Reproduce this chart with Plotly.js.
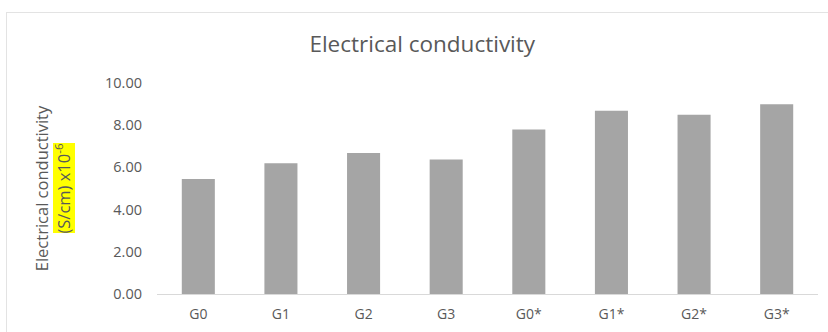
<!DOCTYPE html>
<html>
<head>
<meta charset="utf-8">
<script src="https://cdn.plot.ly/plotly-3.0.1.min.js"></script>
<style>
  html, body { margin: 0; padding: 0; background: #ffffff; }
  #wrap { position: relative; width: 828px; height: 332px; overflow: hidden; }
  #chart { width: 828px; height: 332px; }
  #frame {
    position: absolute; left: 6px; top: 12px; width: 900px; height: 400px;
    border-left: 1.5px solid #e3e3e3; border-top: 1.5px solid #e3e3e3;
    pointer-events: none;
  }
</style>
</head>
<body>
<div id="wrap">
  <div id="chart"></div>
  <div id="frame"></div>
</div>
<script>
// Sample groups and their measured conductivity (S/cm, x10^-6)
const groups = ['G0', 'G1', 'G2', 'G3', 'G0*', 'G1*', 'G2*', 'G3*'];
const conductivity = [5.45, 6.20, 6.68, 6.38, 7.80, 8.68, 8.50, 8.99];
const yTickValues = [0, 2, 4, 6, 8, 10];
const yTickLabels = ['0.00', '2.00', '4.00', '6.00', '8.00', '10.00'];

const textColor = '#595959';
const font = 'Open Sans, Noto Sans, sans-serif';

const trace = {
  type: 'bar',
  x: groups,
  y: conductivity,
  marker: { color: '#a5a5a5', line: { width: 0 } },
  hoverinfo: 'x+y'
};

const layout = {
  width: 828,
  height: 332,
  margin: { l: 157, r: 10, t: 83, b: 38 },
  paper_bgcolor: '#ffffff',
  plot_bgcolor: '#ffffff',
  bargap: 0.6,
  showlegend: false,
  font: { family: font, color: textColor },
  title: {
    text: 'Electrical conductivity',
    font: { family: font, size: 22.5, color: textColor },
    xref: 'container', yref: 'container',
    x: 0.51, xanchor: 'center',
    y: 0.867, yanchor: 'middle'
  },
  xaxis: {
    type: 'category',
    range: [-0.5, 7.5],
    showgrid: false,
    zeroline: false,
    showline: true,
    linecolor: '#d9d9d9',
    linewidth: 1.3,
    ticks: '',
    ticklabelstandoff: 7,
    tickfont: { family: font, size: 14, color: textColor },
    fixedrange: true
  },
  yaxis: {
    range: [0, 10],
    tickvals: yTickValues,
    ticktext: yTickLabels,
    showgrid: false,
    zeroline: false,
    showline: false,
    ticks: '',
    ticklabelstandoff: 14,
    tickfont: { family: font, size: 14.5, color: textColor },
    fixedrange: true,
    title: {
      text: 'Electrical conductivity<br>(S/cm) x10<sup>-6</sup>',
      font: { family: font, size: 16.5, color: textColor },
      standoff: 30
    }
  },
  // yellow highlight behind the unit line of the axis title
  shapes: [
    {
      type: 'rect', layer: 'above',
      xref: 'paper', yref: 'paper',
      x0: (53 - 157) / 661, x1: (75 - 157) / 661,
      y0: (294 - 233) / 211, y1: (294 - 143) / 211,
      fillcolor: '#ffff00', line: { width: 0 }
    }
  ]
};

Plotly.newPlot('chart', [trace], layout, { displayModeBar: false, staticPlot: true });
</script>
</body>
</html>
